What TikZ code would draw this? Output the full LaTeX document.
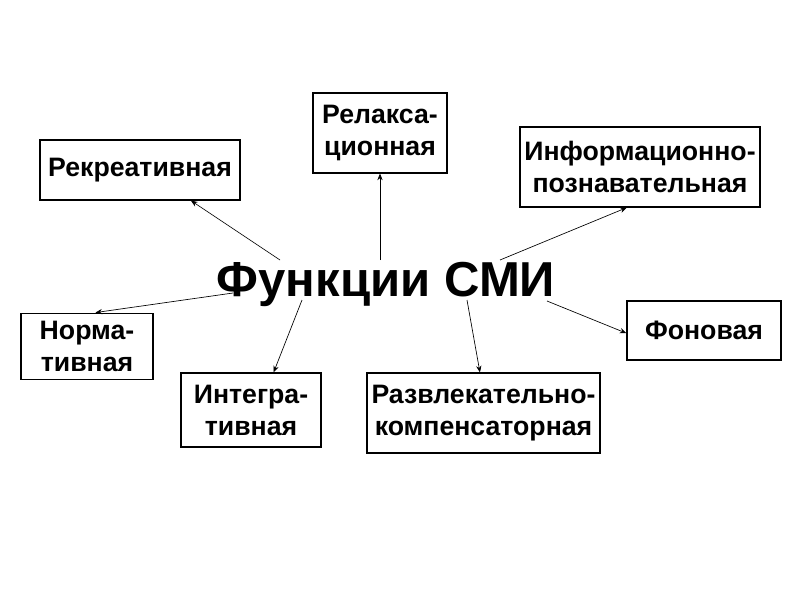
\documentclass[tikz,border=0pt]{standalone}
\usepackage{fontspec}
\setmainfont{Liberation Sans}
\usetikzlibrary{arrows.meta}

\tikzset{
	fbox/.style={draw, line width=0.9pt, inner sep=0pt, align=center, font=\bfseries\fontsize{20}{24}\selectfont},
	arr/.style={line width=0.5pt, -{Stealth[length=5pt,width=4pt]}}
}

\begin{document}
\begin{tikzpicture}[x=0.75pt,y=0.75pt,yscale=-1,xscale=1]
			\useasboundingbox (0,0) rectangle (800,600);
			
			% Text Node
			\draw (386,296) node [anchor=base][inner sep=0pt] (title) {\bfseries\fontsize{36.8}{42}\selectfont Функции СМИ};
			
			% Boxes
			\draw (140,170) node [fbox, minimum width=150pt, minimum height=45pt] (rek) {Рекреативная};
			\draw (380,133) node [fbox, minimum width=100.5pt, minimum height=60pt] (rel) {Релакса-\\ционная};
			\draw (640,167) node [fbox, minimum width=180pt, minimum height=60pt] (inf) {Информационно-\\познавательная};
			\draw (87,346.5) node [fbox, minimum width=99pt, minimum height=50pt] (norm) {Норма-\\тивная};
			\draw (251,410) node [fbox, minimum width=105pt, minimum height=55.5pt] (integ) {Интегра-\\тивная};
			\draw (483.5,413) node [fbox, minimum width=174.75pt, minimum height=60pt] (razv) {Развлекательно-\\компенсаторная};
			\draw (704,330.5) node [fbox, minimum width=115.5pt, minimum height=44.25pt] (fon) {Фоновая};
			
			% Starts
			\coordinate (s1) at (280,260);
			\coordinate (s2) at (380,260);
			\coordinate (s3) at (500,260);
			\coordinate (s4) at (233,293);
			\coordinate (s5) at (302,300);
			\coordinate (s6) at (467,300);
			\coordinate (s7) at (547,301);
			
			%Straight Lines
			\draw [arr] (s1) -- (rek.329);
			\draw [arr] (s2) -- (rel.south);
			\draw [arr] (s3) -- (inf.252);
			\draw [arr] (s4) -- (norm.76);
			\draw [arr] (s5) -- (integ.59);
			\draw [arr] (s6) -- (razv.95);
			\draw [arr] (s7) -- (fon.182);
		\end{tikzpicture}
\end{document}
